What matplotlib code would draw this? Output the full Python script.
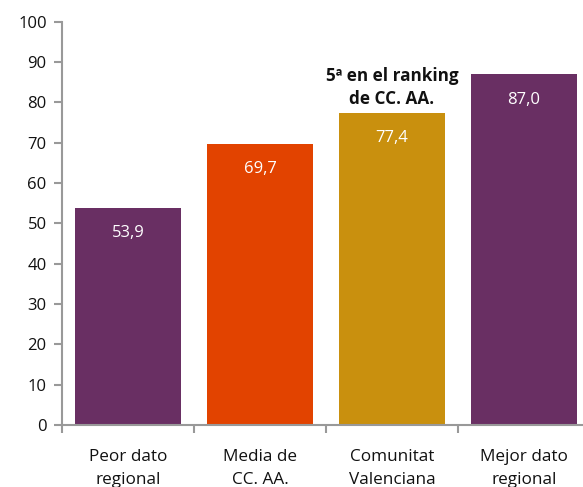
import matplotlib.pyplot as plt
from matplotlib.ticker import FixedLocator

plt.rcParams['font.family'] = ['Open Sans', 'DejaVu Sans']

# data
categories = ["Peor dato\nregional", "Media de\nCC. AA.", "Comunitat\nValenciana", "Mejor dato\nregional"]
values = [53.9, 69.7, 77.4, 87.0]
colors = ["#692F63", "#E24300", "#C9900E", "#692F63"]
note = "5ª en el ranking\nde CC. AA."

fig = plt.figure(figsize=(5.83, 4.87), dpi=100)
ax = fig.add_axes([62/583, 62/487, 521/583, (425-21.7)/487])

x = list(range(len(values)))
ax.bar(x, values, width=0.8, color=colors)

# value labels inside the bars
for xi, v in zip(x, values):
    ax.text(xi, v - 6.3, f"{v:.1f}".replace(".", ","), ha="center", va="center",
            color="white", fontsize=12)

# ranking note above Comunitat Valenciana
ax.text(2, values[2] + 6.3, note, ha="center", va="center", fontsize=12.3,
        fontweight="bold", color="#111111", linespacing=1.3)

ax.set_xlim(-0.5, 3.447)
ax.set_ylim(0, 100)
ax.set_yticks(range(0, 101, 10))

ax.set_xticks(x)
ax.set_xticklabels(categories, fontsize=12.3, color="#111111", linespacing=1.65)
ax.tick_params(axis="x", which="major", length=0, pad=17)
ax.xaxis.set_minor_locator(FixedLocator([-0.5, 0.5, 1.5, 2.5, 3.5]))
ax.tick_params(axis="x", which="minor", length=6, width=1.5, color="#999999", direction="out")
ax.tick_params(axis="y", length=6, width=1.5, color="#999999", labelsize=12,
               labelcolor="#111111", pad=5)

for s in ["top", "right"]:
    ax.spines[s].set_visible(False)
for s in ["left", "bottom"]:
    ax.spines[s].set_color("#999999")
    ax.spines[s].set_linewidth(1.5)
ax.spines["bottom"].set_zorder(3)

fig.savefig("out.png", dpi=100)
